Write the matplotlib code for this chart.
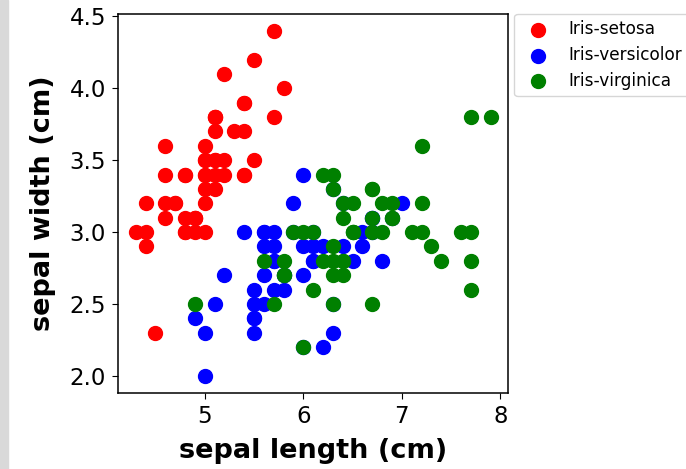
import matplotlib.pyplot as plt
from matplotlib.patches import Rectangle

# iris: sepal length / sepal width per species
setosa_len = [5.1, 4.9, 4.7, 4.6, 5.0, 5.4, 4.6, 5.0, 4.4, 4.9,
              5.4, 4.8, 4.8, 4.3, 5.8, 5.7, 5.4, 5.1, 5.7, 5.1,
              5.4, 5.1, 4.6, 5.1, 4.8, 5.0, 5.0, 5.2, 5.2, 4.7,
              4.8, 5.4, 5.2, 5.5, 4.9, 5.0, 5.5, 4.9, 4.4, 5.1,
              5.0, 4.5, 4.4, 5.0, 5.1, 4.8, 5.1, 4.6, 5.3, 5.0]
setosa_wid = [3.5, 3.0, 3.2, 3.1, 3.6, 3.9, 3.4, 3.4, 2.9, 3.1,
              3.7, 3.4, 3.0, 3.0, 4.0, 4.4, 3.9, 3.5, 3.8, 3.8,
              3.4, 3.7, 3.6, 3.3, 3.4, 3.0, 3.4, 3.5, 3.4, 3.2,
              3.1, 3.4, 4.1, 4.2, 3.1, 3.2, 3.5, 3.1, 3.0, 3.4,
              3.5, 2.3, 3.2, 3.5, 3.8, 3.0, 3.8, 3.2, 3.7, 3.3]

versicolor_len = [7.0, 6.4, 6.9, 5.5, 6.5, 5.7, 6.3, 4.9, 6.6, 5.2,
                  5.0, 5.9, 6.0, 6.1, 5.6, 6.7, 5.6, 5.8, 6.2, 5.6,
                  5.9, 6.1, 6.3, 6.1, 6.4, 6.6, 6.8, 6.7, 6.0, 5.7,
                  5.5, 5.5, 5.8, 6.0, 5.4, 6.0, 6.7, 6.3, 5.6, 5.5,
                  5.5, 6.1, 5.8, 5.0, 5.6, 5.7, 5.7, 6.2, 5.1, 5.7]
versicolor_wid = [3.2, 3.2, 3.1, 2.3, 2.8, 2.8, 3.3, 2.4, 2.9, 2.7,
                  2.0, 3.0, 2.2, 2.9, 2.9, 3.1, 3.0, 2.7, 2.2, 2.5,
                  3.2, 2.8, 2.5, 2.8, 2.9, 3.0, 2.8, 3.0, 2.9, 2.6,
                  2.4, 2.4, 2.7, 2.7, 3.0, 3.4, 3.1, 2.3, 3.0, 2.5,
                  2.6, 3.0, 2.6, 2.3, 2.7, 3.0, 2.9, 2.9, 2.5, 2.8]

virginica_len = [6.3, 5.8, 7.1, 6.3, 6.5, 7.6, 4.9, 7.3, 6.7, 7.2,
                 6.5, 6.4, 6.8, 5.7, 5.8, 6.4, 6.5, 7.7, 7.7, 6.0,
                 6.9, 5.6, 7.7, 6.3, 6.7, 7.2, 6.2, 6.1, 6.4, 7.2,
                 7.4, 7.9, 6.4, 6.3, 6.1, 7.7, 6.3, 6.4, 6.0, 6.9,
                 6.7, 6.9, 5.8, 6.8, 6.7, 6.7, 6.3, 6.5, 6.2, 5.9]
virginica_wid = [3.3, 2.7, 3.0, 2.9, 3.0, 3.0, 2.5, 2.9, 2.5, 3.6,
                 3.2, 2.7, 3.0, 2.5, 2.8, 3.2, 3.0, 3.8, 2.6, 2.2,
                 3.2, 2.8, 2.8, 2.7, 3.3, 3.2, 2.8, 3.0, 2.8, 3.0,
                 2.8, 3.8, 2.8, 2.8, 2.6, 3.0, 3.4, 3.1, 3.0, 3.1,
                 3.1, 3.1, 2.7, 3.2, 3.3, 3.0, 2.5, 3.0, 3.4, 3.0]

species = ["Iris-setosa", "Iris-versicolor", "Iris-virginica"]
colors = ["red", "blue", "green"]
lengths = [setosa_len, versicolor_len, virginica_len]
widths = [setosa_wid, versicolor_wid, virginica_wid]

fig = plt.figure(figsize=(6.86, 4.69), dpi=100)
ax = fig.add_axes([0.172, 0.162, 0.569, 0.809])

for name, c, xs, ys in zip(species, colors, lengths, widths):
    ax.scatter(xs, ys, s=100, color=c, label=name)

ax.set_xlabel("sepal length (cm)", fontsize=19.5, fontweight="bold", labelpad=7.5)
ax.set_ylabel("sepal width (cm)", fontsize=19.5, fontweight="bold", labelpad=10)
ax.tick_params(labelsize=16.5, length=4.3, pad=4.3)
ax.set_xticks([5, 6, 7, 8])
ax.set_yticks([2.0, 2.5, 3.0, 3.5, 4.0, 4.5])
for sp in ax.spines.values():
    sp.set_linewidth(1.1)

ax.legend(loc="upper left", bbox_to_anchor=(1.015, 1.0), borderaxespad=0,
          fontsize=12.2, labelspacing=0.45, handletextpad=0.8)

# grey strip on the left edge of the screenshot
fig.patches.append(Rectangle((0, 0), 8 / 686, 1, transform=fig.transFigure,
                             color="#d9d9d9", zorder=-1))

fig.savefig("out.png", dpi=100)
